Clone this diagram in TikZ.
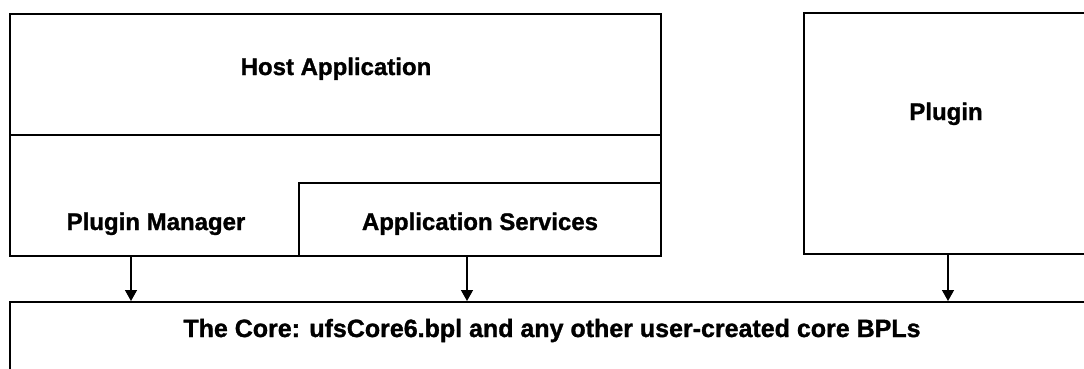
\documentclass[tikz,border=0pt]{standalone}
\usepackage{fontspec}
\setmainfont{Liberation Sans}
\newfontfamily\lblfont{Liberation Sans Bold}[FakeBold=1.2]
\usetikzlibrary{arrows.meta}
\begin{document}
\begin{tikzpicture}[x=1pt,y=-1pt,
  box/.style={draw, line width=1.6pt, inner sep=0pt, anchor=north west},
  lbl/.style={font=\lblfont\fontsize{24}{28}\selectfont, inner sep=0pt, anchor=base},
  arr/.style={line width=1.4pt, -{Triangle[width=12pt,length=11pt]}}]
\useasboundingbox (0,0) rectangle (1084,368);
\clip (0,0) rectangle (1084,368);
% boxes
\node[box, minimum width=651pt, minimum height=242pt] (host) at (9,13) {};
\node[box, minimum width=651pt, minimum height=121pt] (hosttop) at (9,13) {};
\node[box, minimum width=362pt, minimum height=73pt] (appsvc) at (298,182) {};
\node[box, minimum width=300pt, minimum height=241pt] (plugin) at (803,12) {};
\node[box, minimum width=1100pt, minimum height=100pt] (core) at (9,301) {};
% labels
\node[lbl] (hostlbl) at (336,75) {Host Application};
\node[lbl] (pmlbl) at (156,230) {Plugin Manager};
\node[lbl] (aslbl) at (480,230) {Application Services};
\node[lbl] (pluginlbl) at (946,120) {Plugin};
\node[lbl, font=\lblfont\fontsize{25}{28}\selectfont] (corelbl) at (552,337) {The Core: ufsCore6.bpl and any other user-created core BPLs};
% connector sources
\coordinate (pmout) at (131,255);
\coordinate (asout) at (467,255);
\coordinate (plout) at (948,253);
\draw[arr] (pmout) -- (pmout |- core.north);
\draw[arr] (asout) -- (asout |- core.north);
\draw[arr] (plout) -- (plout |- core.north);
\end{tikzpicture}
\end{document}
